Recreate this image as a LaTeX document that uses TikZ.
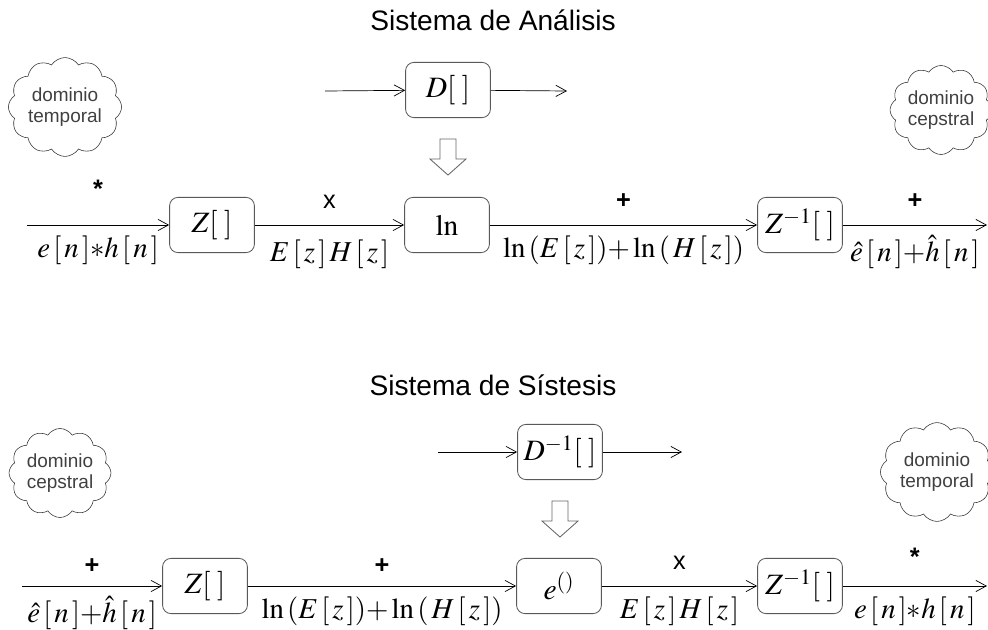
\documentclass[tikz,border=0pt]{standalone}
\usepackage{mathptmx}
\usepackage{fontspec}
\setsansfont{Liberation Sans}
\usetikzlibrary{arrows.meta, positioning, shapes.symbols, calc}

\begin{document}
\begin{tikzpicture}[
				x=0.025cm, y=-0.025cm,
				bloque/.style={draw=black!65, rectangle, rounded corners=6pt, minimum width=2.12cm, minimum height=1.38cm, align=center, font=\fontsize{21}{22}\selectfont, line width=0.6pt},
				nube/.style={draw=black!80, cloud, cloud puffs=12, cloud puff arc=115, aspect=1.2, minimum width=2.4cm, minimum height=2.0cm, align=center, font=\sffamily\fontsize{13.5}{15}\selectfont, text=black!75, inner sep=0pt},
				flecha/.style={-{Straight Barb[length=2.6mm, width=2.8mm]}, line width=0.5pt},
				hueca/.style={draw=black!60, line width=0.6pt, line join=miter},
				titulo/.style={font=\sffamily\fontsize{20}{24}\selectfont},
				signo/.style={above=8pt, font=\sffamily\fontsize{18}{18}\selectfont},
				etiq/.style={below=4pt, font=\fontsize{20.5}{22}\selectfont}
			]
			\useasboundingbox (0,0) rectangle (988,630);

			% Sistema de Analisis
			\node[titulo] (tituloA) at (493,20) {Sistema de Análisis};
			\node[nube] (nubeA1) at (65,107) {dominio\\temporal};
			\node[nube] (nubeA2) at (941,110) {dominio\\cepstral};

			\node[bloque] (anD) at (448,90) {$D[\;]$};
			\coordinate (inD) at (325,91);
			\coordinate (outD) at (567,91);
			\draw[flecha] (inD) -- (anD);
			\draw[flecha] (anD) -- (outD);
			\draw[hueca] ($(anD.south)+(-8,21)$) -- ++(0,20) -- ++(-10,0) -- ($(anD.south)+(0,57)$)
				-- ($(anD.south)+(18,41)$) -- ++(-10,0) -- ++(0,-20) -- cycle;

			\coordinate (inA) at (27,225);
			\node[bloque] (anZ) at (212,225) {$Z[\;]$};
			\node[bloque] (anLn) at (447,225) {$\ln$};
			\node[bloque] (anZi) at (800,225) {$Z^{-1}[\;]$};
			\coordinate (outA) at (987,225);

			\draw[flecha] (inA) -- node[signo, yshift=8pt] {\bfseries *} node[etiq] {$e\,[\,n\,]{*}h\,[\,n\,]$} (anZ);
			\draw[flecha] (anZ) -- node[signo] {x} node[etiq, yshift=-3pt] {$E\,[\,z\,]\,H\,[\,z\,]$} (anLn);
			\draw[flecha] (anLn) -- node[signo] {\bfseries +} node[etiq] {$\ln\,(E\,[\,z\,]){+}\ln\,(\,H\,[\,z\,])$} (anZi);
			\draw[flecha] (anZi) -- node[signo] {\bfseries +} node[etiq] {$\hat{e}\,[\,n\,]{+}\hat{h}\,[\,n\,]$} (outA);

			% Sistema de Sintesis
			\node[titulo] (tituloS) at (493,385) {Sistema de Sístesis};
			\node[nube] (nubeS1) at (60,473) {dominio\\cepstral};
			\node[nube] (nubeS2) at (937,472) {dominio\\temporal};

			\node[bloque] (sinD) at (560,452) {$D^{-1}[\;]$};
			\coordinate (inDi) at (438,452);
			\coordinate (outDi) at (682,452);
			\draw[flecha] (inDi) -- (sinD);
			\draw[flecha] (sinD) -- (outDi);
			\draw[hueca] ($(sinD.south)+(-8,21)$) -- ++(0,20) -- ++(-10,0) -- ($(sinD.south)+(0,57)$)
				-- ($(sinD.south)+(18,41)$) -- ++(-10,0) -- ++(0,-20) -- cycle;

			\coordinate (inS) at (22,586);
			\node[bloque] (sinZ) at (205,586) {$Z[\;]$};
			\node[bloque] (sinE) at (559,586) {$e^{()}$};
			\node[bloque] (sinZi) at (800,586) {$Z^{-1}[\;]$};
			\coordinate (outS) at (987,586);

			\draw[flecha] (inS) -- node[signo, yshift=-3pt] {\bfseries +} node[etiq] {$\hat{e}\,[\,n\,]{+}\hat{h}\,[\,n\,]$} (sinZ);
			\draw[flecha] (sinZ) -- node[signo, yshift=-3pt] {\bfseries +} node[etiq] {$\ln\,(E\,[\,z\,]){+}\ln\,(\,H\,[\,z\,])$} (sinE);
			\draw[flecha] (sinE) -- node[signo] {x} node[etiq] {$E\,[\,z\,]\,H\,[\,z\,]$} (sinZi);
			\draw[flecha] (sinZi) -- node[signo, yshift=3pt] {\bfseries *} node[etiq] {$e\,[\,n\,]{*}h\,[\,n\,]$} (outS);
		\end{tikzpicture}
\end{document}
